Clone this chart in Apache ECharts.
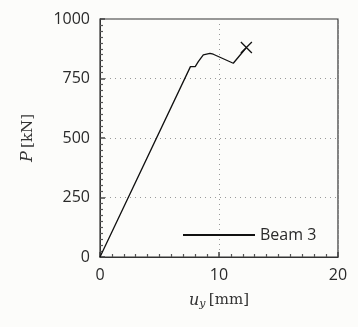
<!DOCTYPE html>
<html>
<head>
<meta charset="utf-8">
<script src="https://cdn.jsdelivr.net/npm/echarts@6/dist/echarts.min.js"></script>
<style>
  html, body { margin: 0; padding: 0; background: #fcfcfa; }
  #chart { width: 358px; height: 327px; }
</style>
</head>
<body>
<div id="chart"></div>
<script>
// Beam 3 load-displacement curve
const uy = [0, 7.6, 8.0, 8.26, 8.68, 9.24, 9.52, 11.2, 11.9, 12.3];
const load = [0, 800, 800, 821, 849, 856, 852, 814, 856, 880];
const failure = [12.3, 880];
const seriesName = 'Beam 3';

const myChart = echarts.init(document.getElementById('chart'));

// fresh style objects per axis
function mkAxisLine() { return { show: true, lineStyle: { color: '#333', width: 1 } }; }
function mkTick() { return { show: true, inside: true, length: 5, lineStyle: { color: '#444', width: 1.5 } }; }
function mkMinor() { return { show: true, splitNumber: 10, length: 3, lineStyle: { color: '#555', width: 1.2 } }; }
function mkSplit() { return { show: true, lineStyle: { color: '#999', type: [1, 4], width: 1 } }; }
function mkLabel() { return { margin: 10, color: '#2a2a2a', fontSize: 16, fontFamily: 'Open Sans', formatter: v => String(v) }; }

const option = {
    animation: false,
    // grid border closes the box on top and right
    grid: { left: 100, right: 20, top: 19, bottom: 70, show: true, borderColor: '#333', borderWidth: 1.2 },
    legend: {
        data: [seriesName],
        left: 178,
        top: 222,
        itemWidth: 72,
        itemHeight: 2,
        itemGap: 6,
        icon: 'rect',
        textStyle: { color: '#2a2a2a', fontSize: 16, fontFamily: 'Open Sans' }
    },
    xAxis: {
        type: 'value',
        min: 0, max: 20, interval: 10,
        name: '{it|u}{sub|y} {rm|[mm]}',
        nameLocation: 'middle',
        nameGap: 34,
        nameTextStyle: {
            rich: {
                it: { fontFamily: 'DejaVu Serif', fontStyle: 'italic', fontSize: 16, color: '#333' },
                sub: { fontFamily: 'DejaVu Serif', fontStyle: 'italic', fontSize: 11, color: '#333', verticalAlign: 'bottom', padding: [8, 0, 0, 0] },
                rm: { fontFamily: 'DejaVu Serif', fontSize: 15, color: '#333' }
            }
        },
        axisLine: mkAxisLine(),
        axisTick: mkTick(),
        minorTick: mkMinor(),
        splitLine: mkSplit(),
        axisLabel: mkLabel()
    },
    yAxis: {
        type: 'value',
        min: 0, max: 1000, interval: 250,
        name: '{it|P} {rm|[kN]}',
        nameLocation: 'middle',
        nameGap: 64,
        nameRotate: 90,
        nameTextStyle: {
            rich: {
                it: { fontFamily: 'DejaVu Serif', fontStyle: 'italic', fontSize: 16, color: '#333' },
                rm: { fontFamily: 'DejaVu Serif', fontSize: 15, color: '#333' }
            }
        },
        axisLine: mkAxisLine(),
        axisTick: mkTick(),
        minorTick: mkMinor(),
        splitLine: mkSplit(),
        axisLabel: mkLabel()
    },
    series: [{
        name: seriesName,
        type: 'line',
        data: uy.map((u, i) => [u, load[i]]),
        showSymbol: false,
        symbol: 'none',
        lineStyle: { color: '#111', width: 1.3 },
        itemStyle: { color: '#111' },
        markPoint: {
            symbol: 'path://M0,0L10,10M10,0L0,10',
            symbolSize: 11,
            label: { show: false },
            itemStyle: { color: 'none', borderColor: '#111', borderWidth: 1.3 },
            data: [{ coord: failure }]
        }
    }]
};

myChart.setOption(option);
</script>
</body>
</html>
